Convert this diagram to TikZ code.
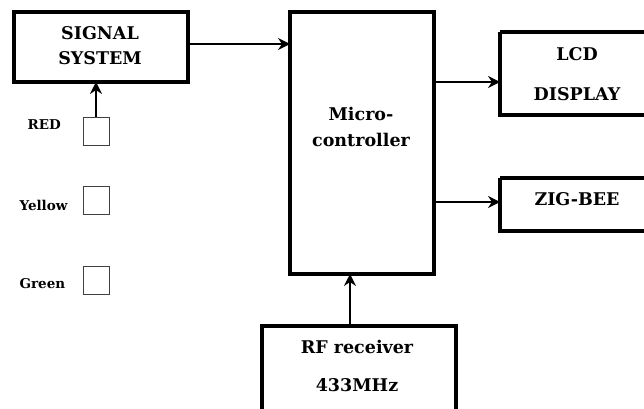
\documentclass[tikz,border=0pt]{standalone}
\usepackage{fontspec}
\setmainfont{DejaVu Serif}
\usetikzlibrary{arrows.meta}
\begin{document}
\begin{tikzpicture}[x=1pt,y=-1pt,
  blk/.style={draw,line width=3.2pt,inner sep=0pt},
  sq/.style={draw=black!75,line width=1pt,minimum width=26pt,minimum height=28pt,inner sep=0pt},
  lbl/.style={font=\fontsize{17.5}{22}\selectfont\bfseries,align=center},
  sml/.style={font=\fontsize{13.5}{15}\selectfont\bfseries},
  arr/.style={line width=2.2pt,-{Stealth[length=12pt,width=12pt,inset=4pt]}}]
\useasboundingbox (0,0) rectangle (644,408);
% boxes
\draw[blk] (14,12) rectangle (188,82);
\node[lbl] (sig) at (100,46) {SIGNAL\\[3pt]SYSTEM};
\coordinate (sigR) at (188,44);
\coordinate (sigB) at (96,82);
\draw[blk] (290,12) rectangle (434,274);
\node[lbl] (mc) at (361,127) {Micro-\\[4pt]controller};
\coordinate (mcL) at (290,44);
\coordinate (mcR1) at (434,82);
\coordinate (mcR2) at (434,202);
\coordinate (mcB) at (350,274);
\draw[blk] (500,32) -- (650,32) (500,32) -- (500,115) -- (650,115);
\node[lbl] (lcd) at (577,74) {LCD\\[18pt]DISPLAY};
\coordinate (lcdL) at (500,82);
\draw[blk] (500,178) -- (650,178) (500,178) -- (500,231) -- (650,231);
\node[lbl] (zig) at (577,199) {ZIG-BEE};
\coordinate (zigL) at (500,202);
\draw[blk] (262,414) -- (262,326) -- (456,326) -- (456,414);
\node[lbl] (rf) at (357,366) {RF receiver\\[16pt]433MHz};
\coordinate (rfT) at (350,326);
% small squares
\node[sq] (red) at (96,131) {};
\node[sq] (yel) at (96,200) {};
\node[sq] (grn) at (96,280) {};
\node[sml,anchor=west] (redl) at (24,125) {RED};
\node[sml,anchor=west] (yell) at (16,205) {Yellow};
\node[sml,anchor=west] (grnl) at (16,284) {Green};
% arrows
\draw[arr] (sigR) -- (mcL);
\draw[arr] (mcR1) -- (lcdL);
\draw[arr] (mcR2) -- (zigL);
\draw[arr] (rfT) -- (mcB);
\draw[arr] (red.north) -- (sigB);
\end{tikzpicture}
\end{document}
